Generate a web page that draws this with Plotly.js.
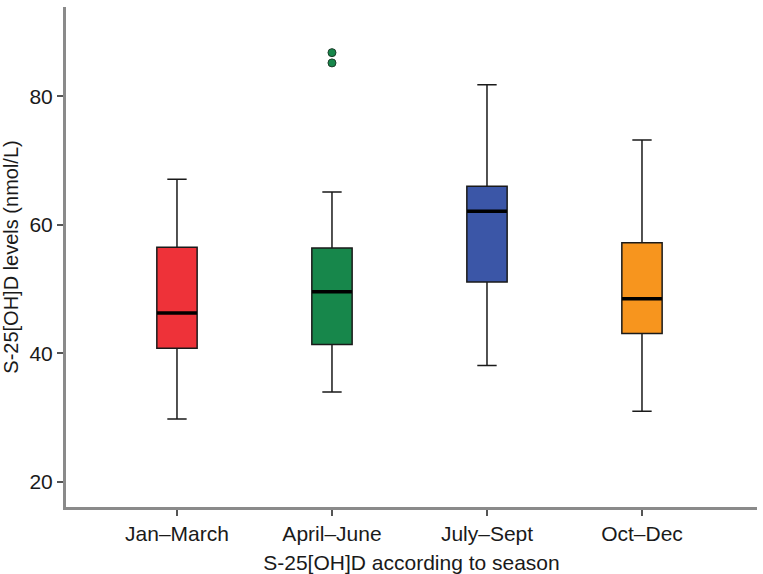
<!DOCTYPE html>
<html>
<head>
<meta charset="utf-8">
<script src="https://cdn.plot.ly/plotly-3.0.1.min.js"></script>
<style>
  html, body { margin: 0; padding: 0; background: #fff; }
  #chart { width: 763px; height: 574px; }
</style>
</head>
<body>
<div id="chart"></div>
<script>
// Seasons and box statistics (nmol/L)
const seasons = ['Jan–March', 'April–June', 'July–Sept', 'Oct–Dec'];
const lowerWhisker = [29.8, 34.0, 38.1, 31.0];
const q1 = [40.8, 41.4, 51.1, 43.1];
const medians = [46.3, 49.6, 62.1, 48.5];
const q3 = [56.5, 56.4, 66.0, 57.2];
const upperWhisker = [67.1, 65.1, 81.8, 73.2];

// Outliers (April–June only)
const outlierSeason = ['April–June', 'April–June'];
const outlierValues = [86.8, 85.2];

const boxColors = ['#ee3239', '#17874b', '#3b56a7', '#f7951e'];

const font = 'Liberation Sans, Arial, Helvetica, sans-serif';

const traces = seasons.map((s, i) => ({
    type: 'box',
    x: [s],
    q1: [q1[i]],
    median: [medians[i]],
    q3: [q3[i]],
    lowerfence: [lowerWhisker[i]],
    upperfence: [upperWhisker[i]],
    fillcolor: boxColors[i],
    line: {color: '#1a1a1a', width: 1.5},
    width: 0.26,
    whiskerwidth: 0.48,
    boxpoints: false,
    hoverinfo: 'skip',
    showlegend: false
}));

// thicker median bars on top of the boxes (line-ew length = 1.4 * size)
traces.push({
    type: 'scatter',
    mode: 'markers',
    x: seasons,
    y: medians,
    marker: {symbol: 'line-ew', size: 28.5, line: {color: '#000', width: 3.5}},
    hoverinfo: 'skip',
    showlegend: false
});

traces.push({
    type: 'scatter',
    mode: 'markers',
    x: outlierSeason,
    y: outlierValues,
    marker: {color: boxColors[1], size: 8, line: {color: '#1d3d2a', width: 1}},
    hoverinfo: 'skip',
    showlegend: false
});

const layout = {
    width: 763,
    height: 574,
    margin: {l: 66, r: 6, t: 7, b: 67},
    paper_bgcolor: '#fff',
    plot_bgcolor: '#fff',
    boxmode: 'overlay',
    font: {family: font, size: 21, color: '#1a1a1a'},
    xaxis: {
        type: 'category',
        range: [-0.716, 3.742],
        showline: true,
        linecolor: '#8a8a8a',
        linewidth: 3,
        ticks: 'outside',
        ticklen: 6,
        tickwidth: 2,
        tickcolor: '#555',
        showgrid: false,
        zeroline: false,
        tickfont: {size: 21},
        title: {text: 'S-25[OH]D according to season', font: {size: 21}, standoff: 13},
        automargin: false
    },
    yaxis: {
        range: [16.1, 93.9],
        tickvals: [20, 40, 60, 80],
        showline: true,
        linecolor: '#8a8a8a',
        linewidth: 3,
        ticks: 'outside',
        ticklen: 6,
        tickwidth: 2,
        tickcolor: '#555',
        showgrid: false,
        zeroline: false,
        tickfont: {size: 21},
        title: {text: 'S-25[OH]D levels (nmol/L)', font: {size: 20}, standoff: 6},
        automargin: false
    }
};

Plotly.newPlot('chart', traces, layout, {displayModeBar: false, staticPlot: true});
</script>
</body>
</html>
